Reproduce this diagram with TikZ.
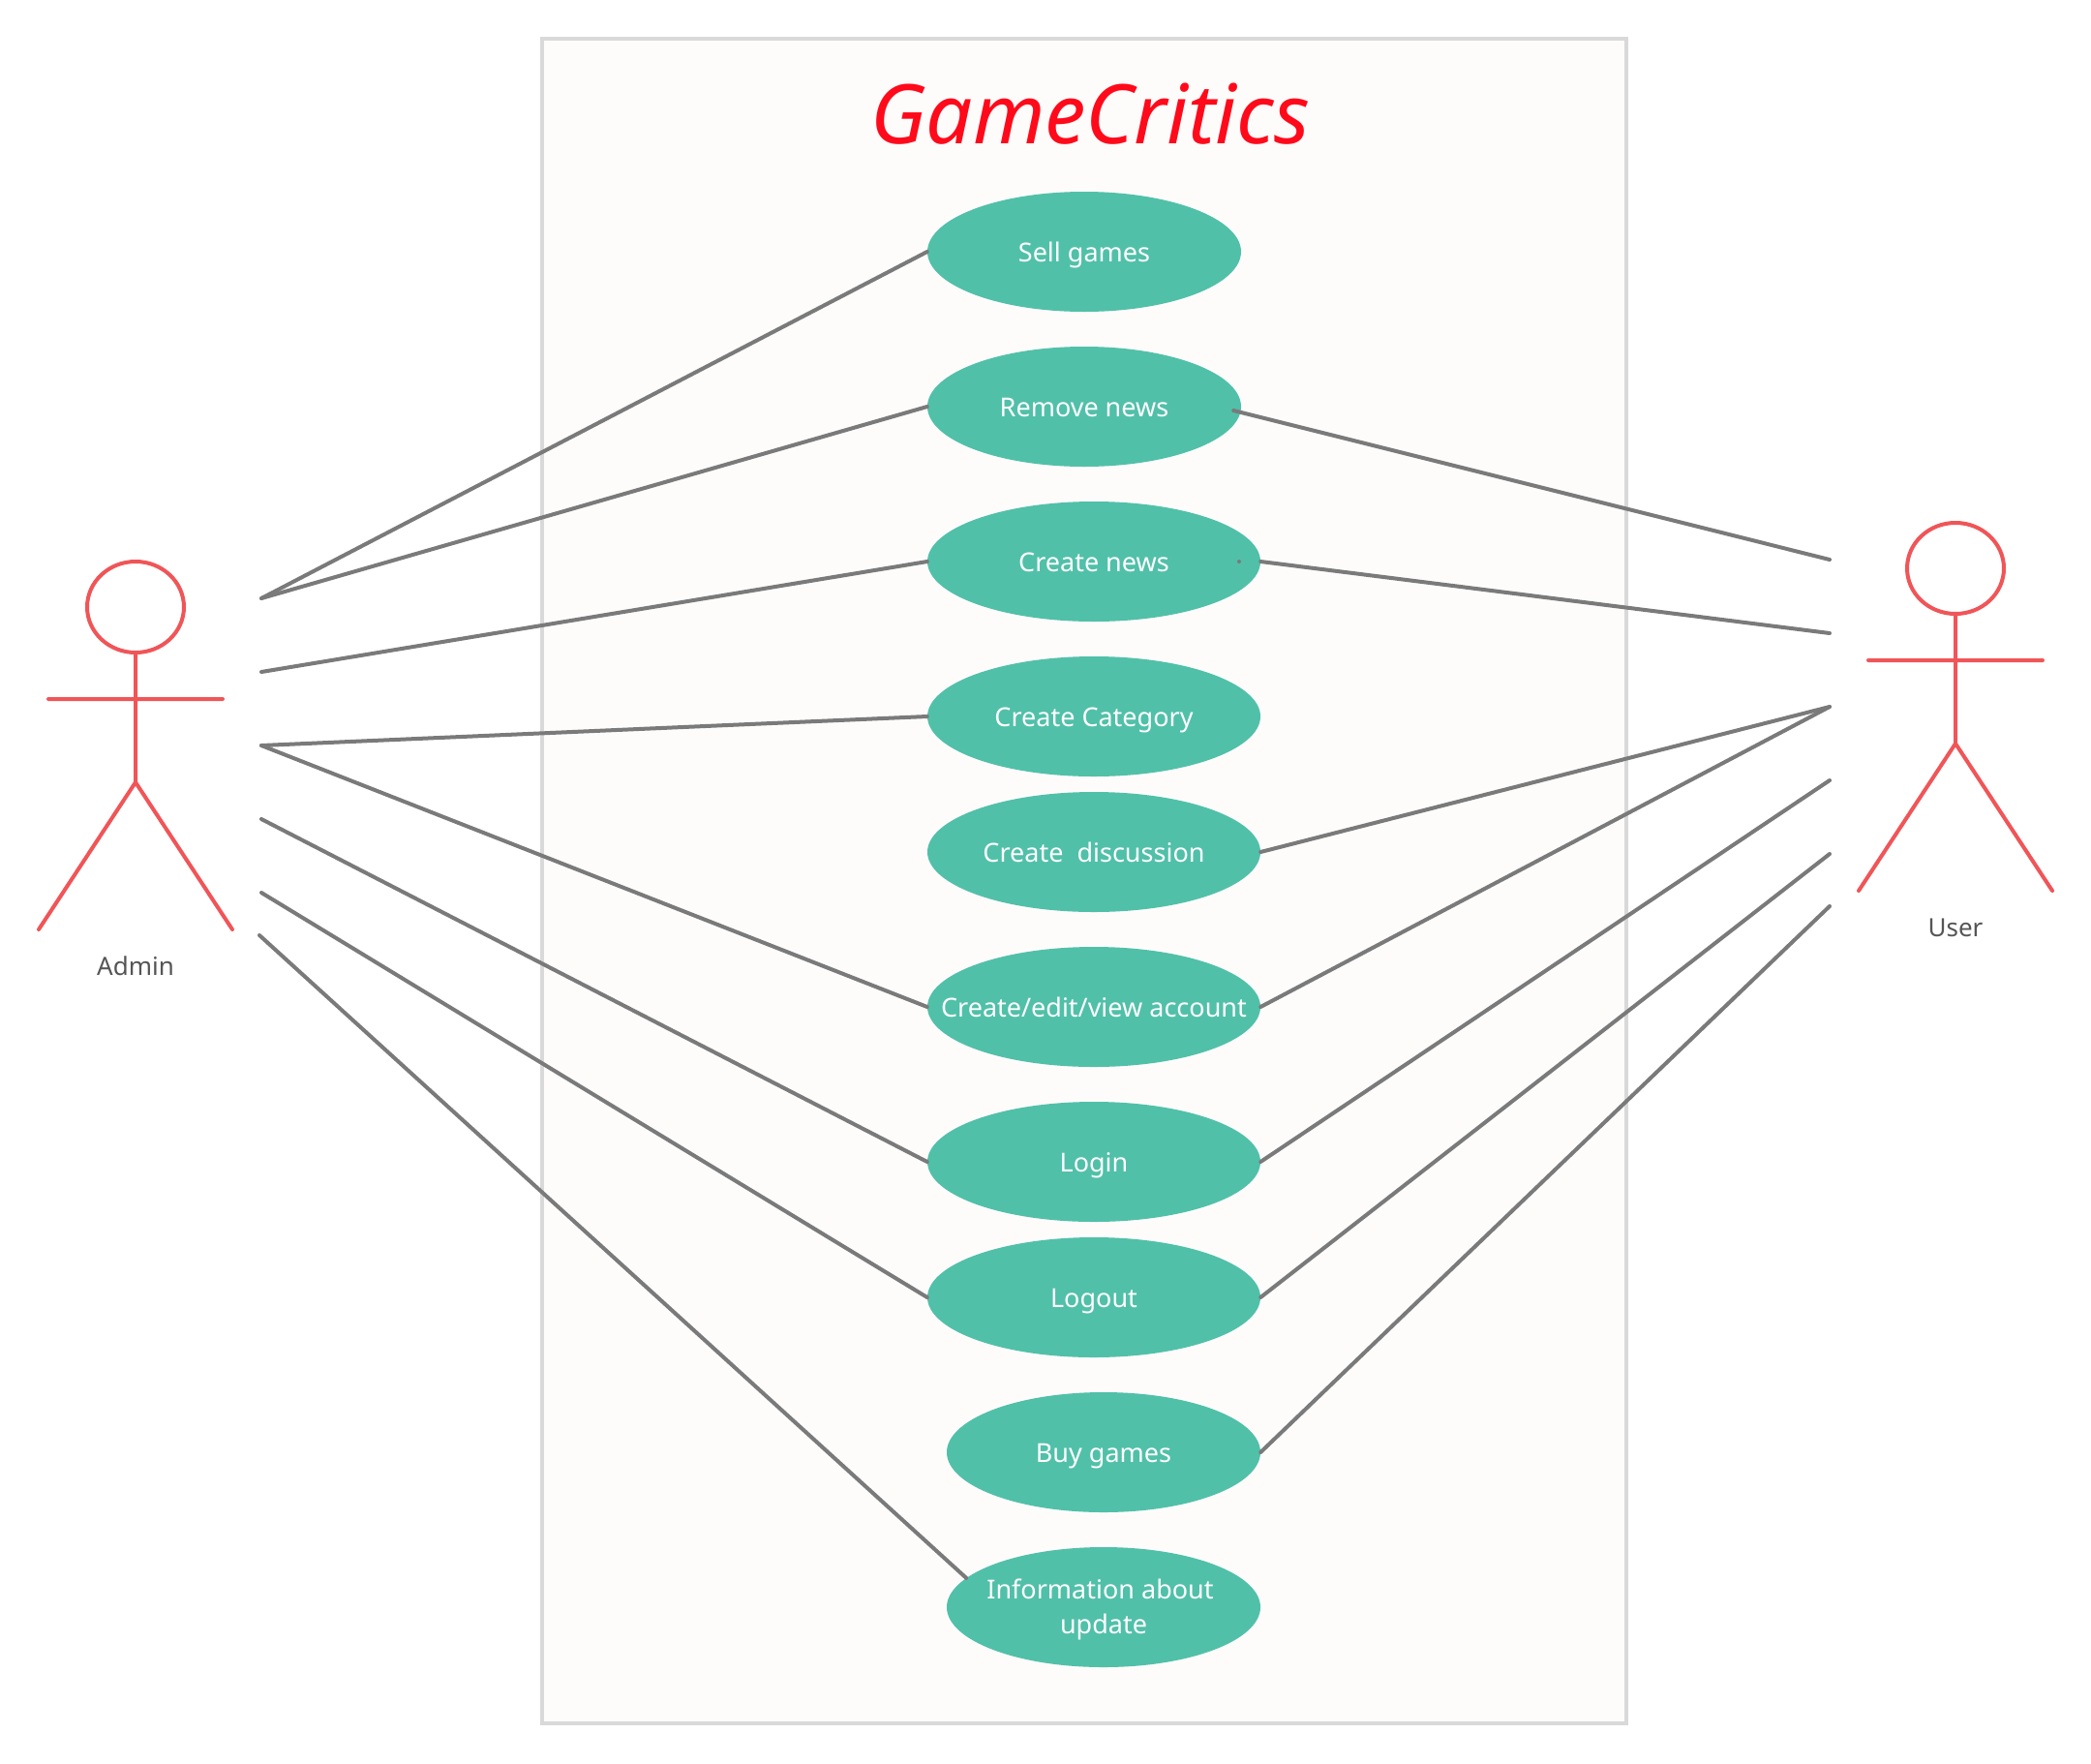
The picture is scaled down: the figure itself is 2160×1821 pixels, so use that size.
\documentclass[tikz,border=0pt]{standalone}
\usepackage{fontspec}
\usetikzlibrary{shapes.geometric}
\setmainfont{Noto Sans}
\definecolor{framec}{HTML}{D9D9D9}
\definecolor{framefill}{HTML}{FDFCFB}
\definecolor{teal}{HTML}{51C0A9}
\definecolor{wire}{HTML}{7A7A7A}
\definecolor{actorc}{HTML}{F05558}
\definecolor{titlec}{HTML}{FF0A1A}
\definecolor{labelc}{HTML}{555555}
\newcommand{\casetext}[1]{\raisebox{-10.5pt}[0pt][0pt]{\makebox[0pt][c]{#1}}}
\tikzset{
  x=1pt,y=-1pt,
  usecase/.style={ellipse,fill=teal,text=white,inner sep=0pt,minimum width=324pt,minimum height=124pt,font=\fontsize{27}{36}\selectfont},
  widecase/.style={usecase,minimum width=344pt},
  link/.style={draw=wire,line width=4pt,line cap=round,line join=round},
  actorline/.style={draw=actorc,line width=4pt,line cap=round,line join=round},
  actorhead/.style={ellipse,draw=actorc,line width=4pt,inner sep=0pt,minimum width=100pt,minimum height=94pt},
  actorlabel/.style={text=labelc,font=\fontsize{26}{30}\selectfont},
}
\begin{document}
\begin{tikzpicture}
\useasboundingbox (0,0) rectangle (2160,1821);
\node[draw=framec,fill=framefill,line width=4pt,minimum width=1120pt,minimum height=1740pt,inner sep=0pt] (frame) at (1120,910) {};
\node[text=titlec,font=\fontsize{85}{95}\selectfont\itshape] (title) at (1126,118) {GameCritics};
% use cases
\node[usecase] (sell) at (1120,260) {\casetext{Sell games}};
\node[usecase] (remove) at (1120,420) {\casetext{Remove news}};
\node[widecase] (news) at (1130,580) {\casetext{Create news}};
\node[widecase] (category) at (1130,740) {\casetext{Create Category}};
\node[widecase] (discussion) at (1130,880) {\casetext{Create\ \ discussion}};
\node[widecase] (account) at (1130,1040) {\casetext{Create/edit/view account}};
\node[widecase] (login) at (1130,1200) {\casetext{Login}};
\node[widecase] (logout) at (1130,1340) {\casetext{Logout}};
\node[usecase] (buy) at (1140,1500) {\casetext{Buy games}};
\node[usecase] (info) at (1140,1660) {\raisebox{-8.5pt}[0pt][0pt]{\makebox[0pt][c]{\begin{tabular}{@{}c@{}}Information about\ \mbox{}\\update\end{tabular}}}};
\node[circle,fill=wire,inner sep=0pt,minimum size=4pt] (speck) at (1280,580) {};
% admin
\node[actorhead] (ahead) at (140,627) {};
\coordinate (ahip) at (140,808);
\coordinate (aarmL) at (50,722);
\coordinate (aarmR) at (230,722);
\coordinate (alegL) at (40,960);
\coordinate (alegR) at (240,960);
\draw[actorline] (ahead.south) -- (ahip) (aarmL) -- (aarmR) (alegL) -- (ahip) -- (alegR);
\node[actorlabel] (alabel) at (140,998) {Admin};
% user
\node[actorhead] (uhead) at (2020,587) {};
\coordinate (uhip) at (2020,768);
\coordinate (uarmL) at (1930,682);
\coordinate (uarmR) at (2110,682);
\coordinate (ulegL) at (1920,920);
\coordinate (ulegR) at (2120,920);
\draw[actorline] (uhead.south) -- (uhip) (uarmL) -- (uarmR) (ulegL) -- (uhip) -- (ulegR);
\node[actorlabel] (ulabel) at (2020,958) {User};
% free ends
\coordinate (a1) at (270,618);
\coordinate (a2) at (270,694);
\coordinate (a3) at (270,770);
\coordinate (a4) at (270,846);
\coordinate (a5) at (270,922);
\coordinate (a6) at (268,966);
\coordinate (u1) at (1890,578);
\coordinate (u2) at (1890,654);
\coordinate (u3) at (1890,730);
\coordinate (u4) at (1890,806);
\coordinate (u5) at (1890,882);
\coordinate (u6) at (1890,936);
% admin links
\draw[link] (a1) -- (sell.west);
\draw[link] (a1) -- (remove.west);
\draw[link] (a2) -- (news.west);
\draw[link] (a3) -- (category.west);
\draw[link] (a3) -- (account.west);
\draw[link] (a4) -- (login.west);
\draw[link] (a5) -- (logout.west);
\draw[link] (a6) -- (info.168);
% user links
\draw[link] ([shift={(-8pt,-4pt)}]remove.east) -- (u1);
\draw[link] (news.east) -- (u2);
\draw[link] (discussion.east) -- (u3);
\draw[link] (account.east) -- (u3);
\draw[link] (login.east) -- (u4);
\draw[link] (logout.east) -- (u5);
\draw[link] (buy.east) -- (u6);
\end{tikzpicture}
\end{document}
